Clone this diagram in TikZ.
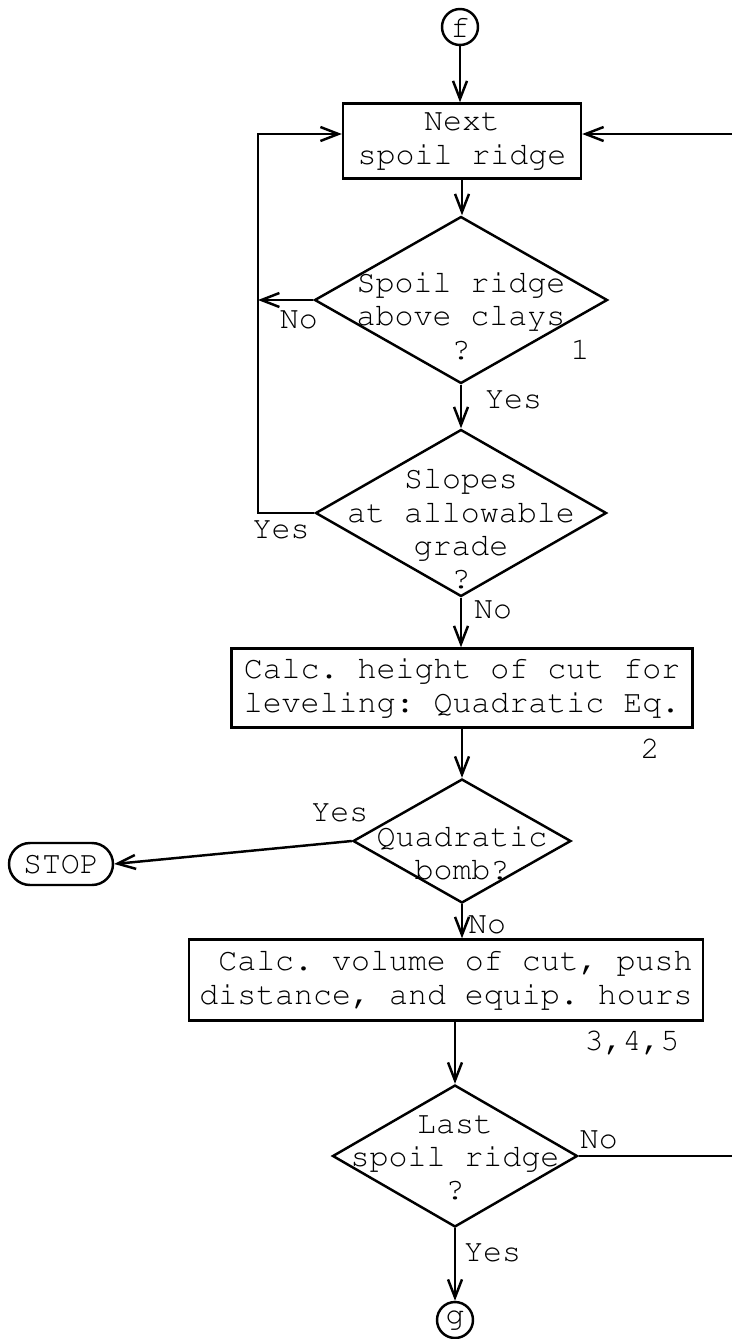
\documentclass[tikz,border=0pt]{standalone}
\usepackage[T1]{fontenc}
\usetikzlibrary{shapes.geometric,arrows.meta}
\newcommand\typewriter{\fontencoding{T1}\fontfamily{pcr}\selectfont\frenchspacing}

\begin{document}
\begin{tikzpicture}[x=0.02cm, y=-0.02cm, line width=1.4pt,
        font=\typewriter\fontsize{18}{19}\selectfont,
        flow/.style={-{Straight Barb[length=0.36cm,width=0.28cm]}},
        box/.style={draw, rectangle, inner sep=0pt, align=center},
        decision/.style={draw, diamond, inner sep=0pt},
        connector/.style={draw, circle, inner sep=0pt, minimum size=0.72cm},
        lbl/.style={inner sep=0pt}]

            \useasboundingbox (0,0) rectangle (732,1339);

            \node[connector] (f) at (460,27) {f};
            \node[box, minimum width=4.76cm, minimum height=1.5cm] (next) at (462,141) {Next\\spoil ridge};
            \node[decision, minimum width=5.86cm, minimum height=3.34cm,
                label={[lbl, align=center, yshift=-0.32cm]center:{Spoil ridge\\above clays\\?}}] (clays) at (461,300) {};
            \node[decision, minimum width=5.82cm, minimum height=3.34cm,
                label={[lbl, align=center, yshift=-0.32cm]center:{Slopes\\at allowable\\grade\\?}}] (grade) at (461,513) {};
            \node[box, minimum width=9.22cm, minimum height=1.58cm] (height) at (462,688) {Calc. height of cut for\\leveling: Quadratic Eq.};
            \node[decision, minimum width=4.36cm, minimum height=2.48cm,
                label={[lbl, align=center, yshift=-0.24cm]center:{Quadratic\\bomb?}}] (bomb) at (462,841) {};
            \node[draw, rounded corners=0.42cm, minimum width=2.08cm, minimum height=0.84cm, inner sep=0pt] (stop) at (61,864) {STOP};
            \node[box, align=right, minimum width=10.28cm, minimum height=1.62cm] (volume) at (446,980) {Calc. volume of cut, push\\distance, and equip. hours};
            \node[decision, minimum width=4.9cm, minimum height=2.84cm,
                label={[lbl, align=center, yshift=-0.04cm]center:{Last\\spoil ridge\\?}}] (last) at (455,1156) {};
            \node[connector] (g) at (455,1320) {g};

            \node[lbl] (ref1) at (580,349) {1};
            \node[lbl] (ref2) at (650,748) {2};
            \node[lbl] (ref345) at (632,1042) {3,4,5};

            \coordinate (loopL) at (258,134);
            \coordinate (loopR) at (745,134);

            \draw[flow] (f.south) -- (f.south |- next.north);
            \draw[flow] (next.south) -- (next.south |- clays.north);
            \draw[flow] (clays.south) -- node[lbl, pos=0.35, anchor=west, xshift=0.46cm] (clays yes) {Yes} (grade.north);
            \draw[flow] (clays.west) -- node[lbl, pos=0.26, yshift=-0.4cm] (clays no) {No} (clays.west -| loopL);
            \draw[flow] (grade.west) -- node[lbl, pos=0.59, yshift=-0.34cm] (grade yes) {Yes} (grade.west -| loopL) -- (loopL) -- (loopL -| next.west);
            \draw[flow] (grade.south) -- node[lbl, pos=0.25, anchor=west, xshift=0.24cm] (grade no) {No} (grade.south |- height.north);
            \draw[flow] (height.south) -- (height.south |- bomb.north);
            \draw[flow] (bomb.west) -- node[lbl, pos=0.05, yshift=0.58cm] (bomb yes) {Yes} (stop.east);
            \draw[flow] (bomb.south) -- node[lbl, pos=0.6, anchor=west, xshift=0.1cm] (bomb no) {No} (bomb.south |- volume.north);
            \draw[flow] (last.north |- volume.south) -- (last.north);
            \draw[flow] (last.east) -- node[lbl, pos=0, anchor=west, yshift=0.32cm] (last no) {No} (last.east -| loopR) -- (loopR) -- (loopR -| next.east);
            \draw[flow] (last.south) -- node[lbl, pos=0.34, anchor=west, xshift=0.16cm] (last yes) {Yes} (last.south |- g.north);
        \end{tikzpicture}
\end{document}
